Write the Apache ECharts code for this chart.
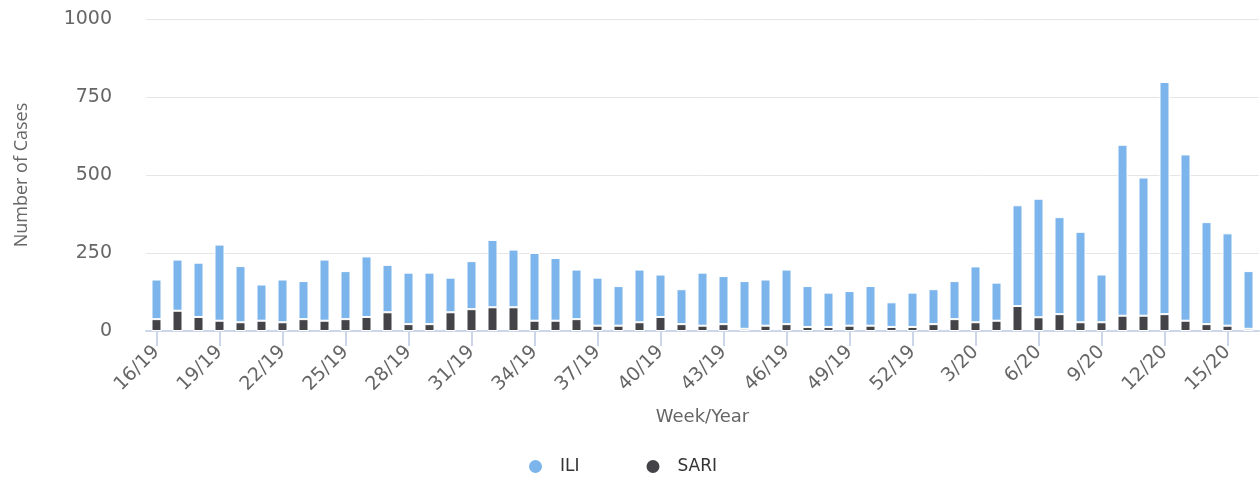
<!DOCTYPE html>
<html>
<head>
<meta charset="utf-8">
<script src="https://cdn.jsdelivr.net/npm/echarts@6/dist/echarts.min.js"></script>
<style>
  html, body { margin: 0; padding: 0; background: #fff; }
  #chart { width: 1260px; height: 484px; }
</style>
</head>
<body>
<div id="chart"></div>
<script>
// week labels 16/19 .. 16/20
const weeks = []
for (let w = 16; w <= 52; w++) weeks.push(w + '/19')
for (let w = 1; w <= 16; w++) weeks.push(w + '/20')

// SARI cases (bottom part of each bar)
const sari = [38, 65, 45, 33, 28, 33, 28, 38, 33, 38, 45, 60, 22,
  22, 60, 70, 76, 76, 33, 33, 38, 17, 17, 28, 45, 22,
  17, 22, 7, 17, 22, 13, 13, 17, 17, 13, 13, 22, 38,
  28, 33, 80, 44, 54, 28, 28, 49, 49, 54, 33, 22, 17, 7]

// total height of each bar (ILI + SARI)
const totals = [165, 229, 219, 277, 208, 149, 165, 160, 229, 192, 239, 212, 187,
  187, 171, 224, 292, 261, 250, 234, 197, 171, 144, 197, 181, 134,
  187, 176, 160, 165, 197, 144, 123, 128, 144, 92, 123, 134, 160,
  207, 155, 403, 424, 365, 318, 181, 597, 492, 798, 566, 349, 313, 192]

const ili = totals.map((t, i) => t - sari[i])

const yTicks = [0, 250, 500, 750, 1000]

const chart = echarts.init(document.getElementById('chart'))
const option = {
  animation: false,
  grid: {
    left: 146,
    right: 1,
    top: 19,
    bottom: 153,
    containLabel: false
  },
  legend: {
    data: ['ILI', 'SARI'],
    bottom: 4,
    left: 522,
    icon: 'circle',
    itemWidth: 15,
    itemHeight: 15,
    itemGap: 65,
    textStyle: {
      color: '#333',
      fontSize: 17,
      fontFamily: 'DejaVu Sans',
      padding: [0, 0, 0, 12]
    }
  },
  xAxis: {
    type: 'category',
    data: weeks,
    name: 'Week/Year',
    nameLocation: 'middle',
    nameGap: 77,
    nameTextStyle: {
      color: '#666',
      fontSize: 18,
      fontFamily: 'DejaVu Sans'
    },
    axisLine: { show: true, onZero: false, lineStyle: { color: '#ccd6eb', width: 2 } },
    axisTick: {
      show: true,
      inside: false,
      alignWithLabel: true,
      interval: i => i % 3 === 0,
      length: 15,
      lineStyle: { color: '#ccd6eb', width: 2 }
    },
    axisLabel: {
      interval: i => i % 3 === 0,
      rotate: 45,
      color: '#666',
      fontSize: 19,
      fontFamily: 'DejaVu Sans',
      margin: 18
    }
  },
  yAxis: {
    type: 'value',
    min: 0,
    max: 1000,
    interval: 250,
    name: 'Number of Cases',
    nameLocation: 'middle',
    nameGap: 115,
    nameTextStyle: {
      color: '#666',
      fontSize: 18,
      fontFamily: 'Open Sans'
    },
    axisLine: { show: false },
    axisTick: { show: false },
    axisLabel: {
      color: '#666',
      fontSize: 19,
      fontFamily: 'DejaVu Sans',
      margin: 34,
      formatter: v => (yTicks.indexOf(v) >= 0 ? String(v) : '')
    },
    splitLine: { lineStyle: { color: '#e6e6e6', width: 1 } }
  },
  series: [
    {
      name: 'SARI',
      type: 'bar',
      stack: 'cases',
      data: sari,
      barWidth: 10,
      itemStyle: { color: '#434348', borderColor: '#fff', borderWidth: 1 }
    },
    {
      name: 'ILI',
      type: 'bar',
      stack: 'cases',
      data: ili,
      barWidth: 10,
      itemStyle: { color: '#7cb5ec', borderColor: '#fff', borderWidth: 1 }
    }
  ]
}
chart.setOption(option)
</script>
</body>
</html>
